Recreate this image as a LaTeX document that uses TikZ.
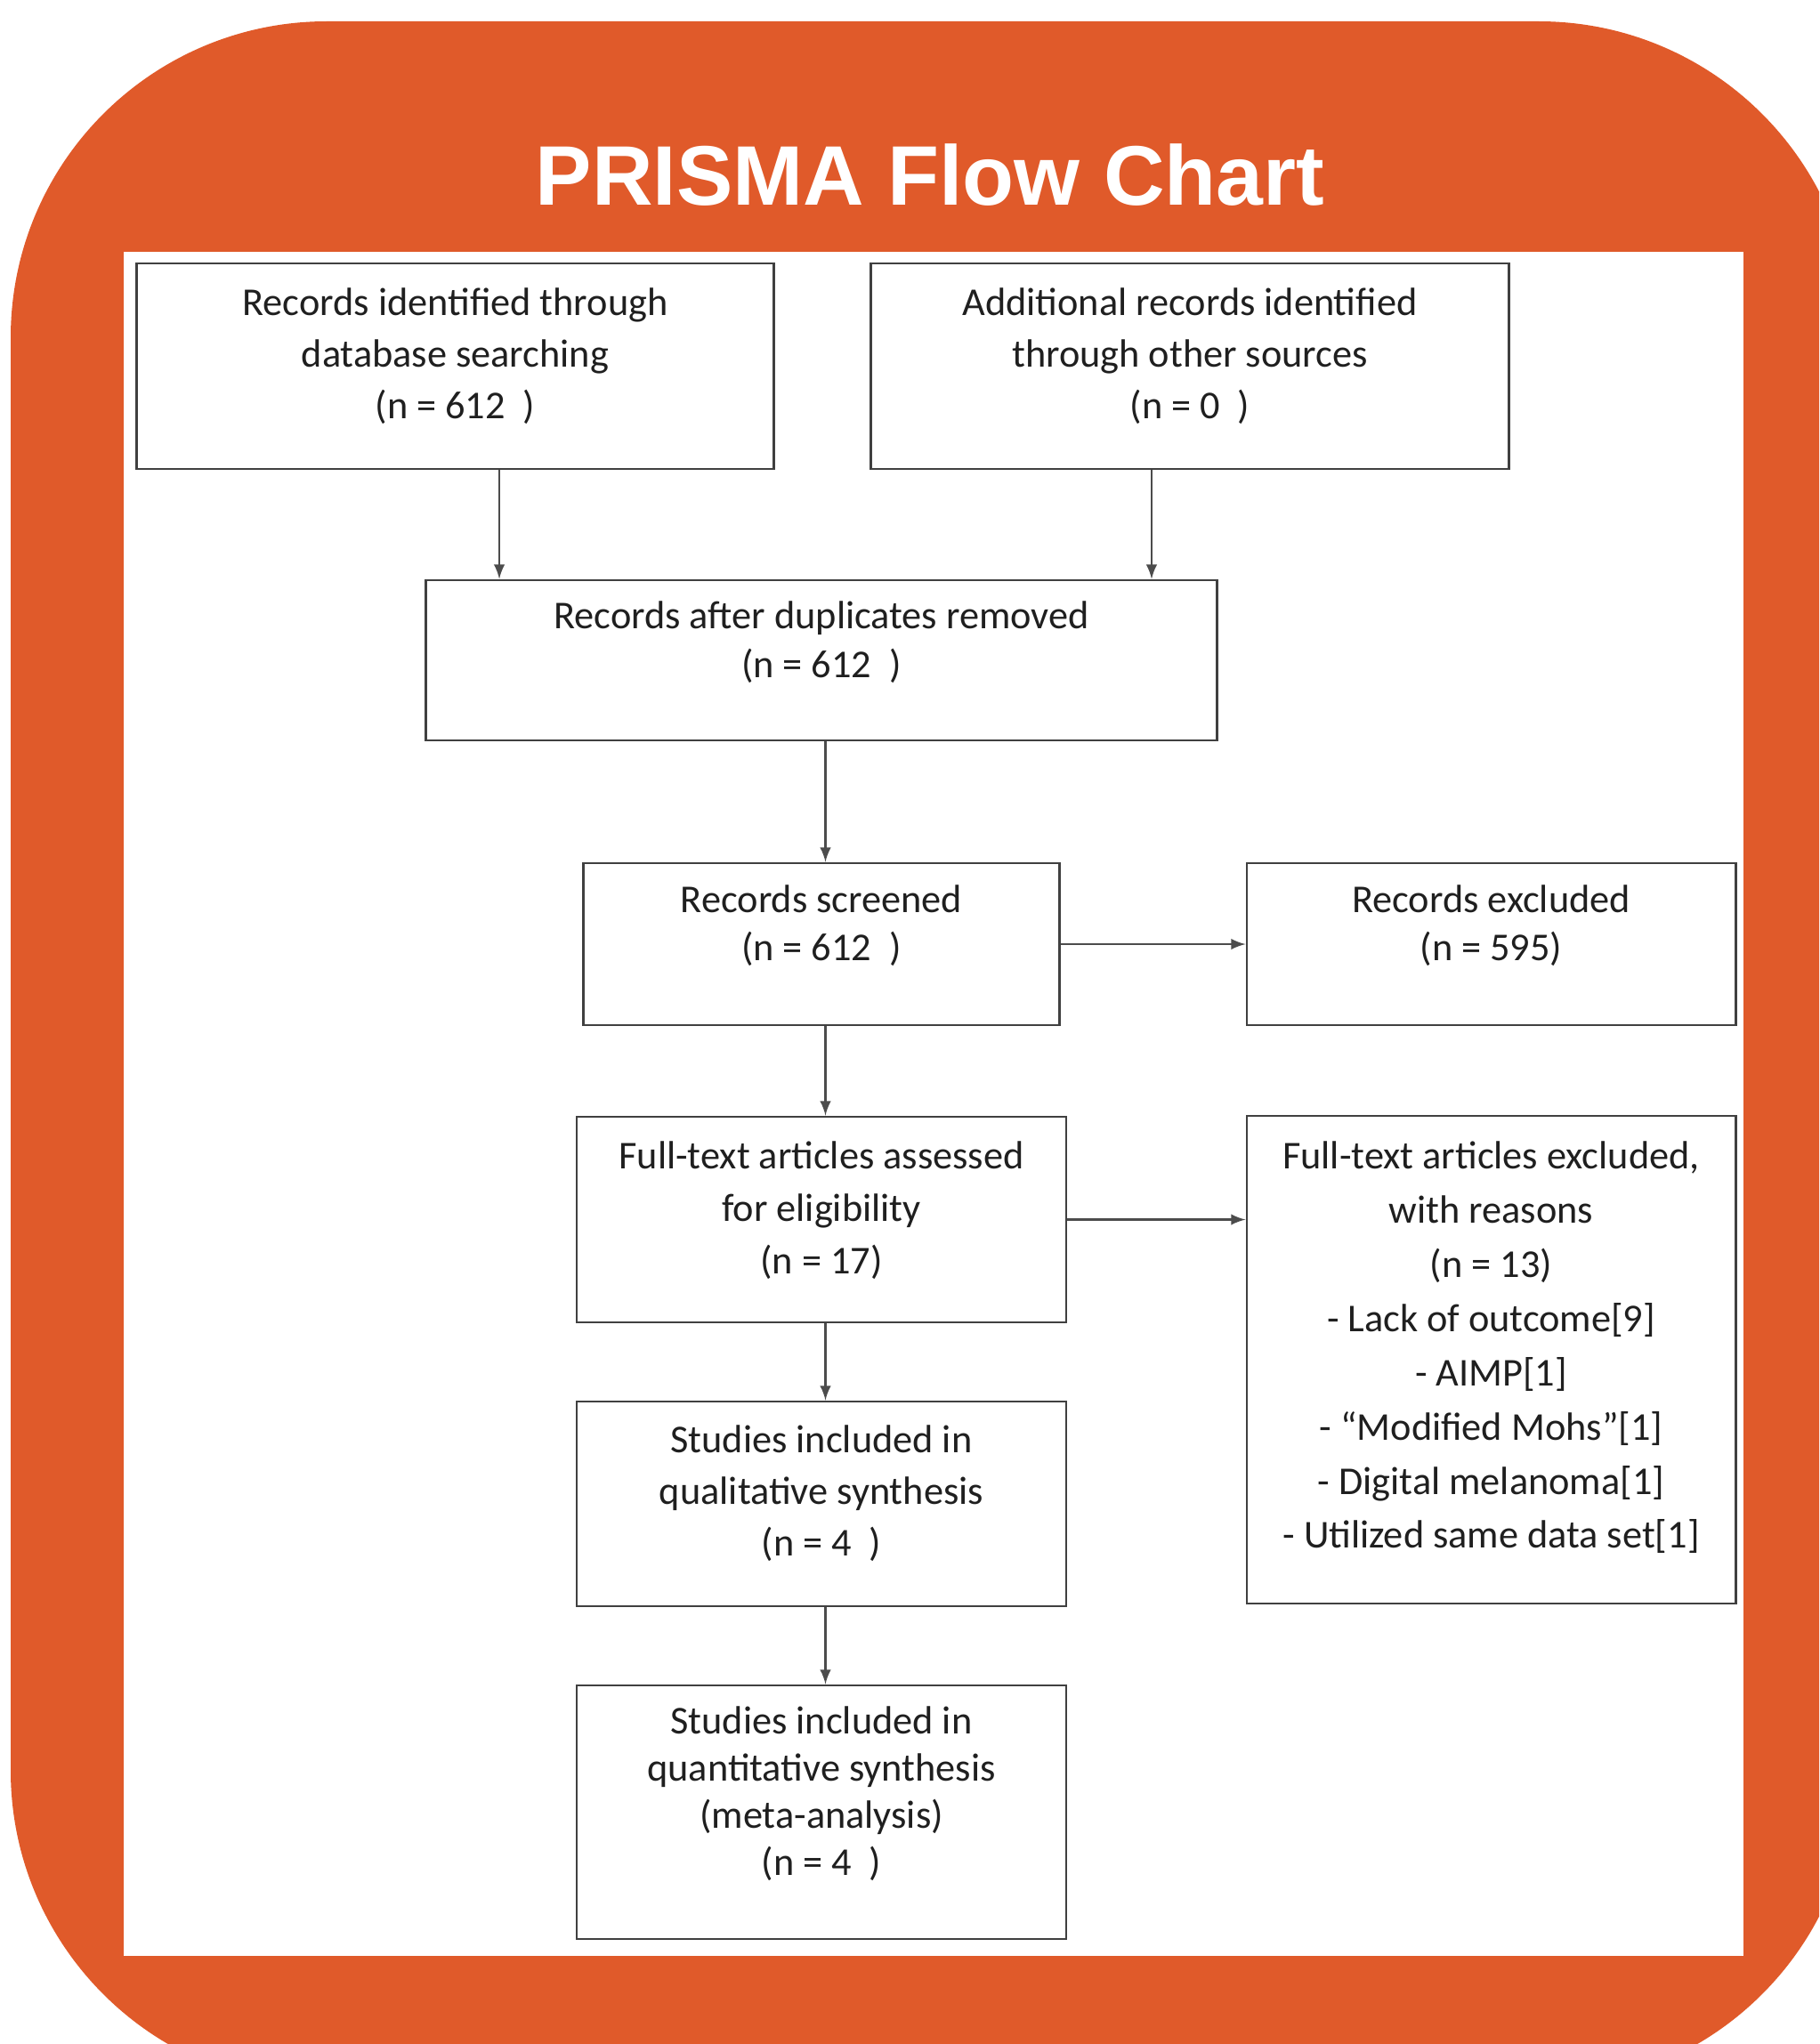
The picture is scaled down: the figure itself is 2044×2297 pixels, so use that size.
\documentclass[tikz,border=0pt]{standalone}
\usepackage{fontspec}
\setmainfont{Carlito}
\newfontfamily\titlefont{Liberation Sans}
\definecolor{slideorange}{HTML}{E05A2A}
\newcommand{\boxtxt}[5]{\parbox[c][#1][t]{#2}{\centering\fontsize{12.6}{#3}\selectfont\rule{0pt}{#4}#5}}
\begin{document}
\begin{tikzpicture}[x=0.01cm, y=-0.01cm,
    box/.style={draw=black!75, line width=0.75pt, inner sep=0pt, text=black!88},
    arr/.style={draw=black!70, line width=0.6pt, -latex}]
\useasboundingbox (0,0) rectangle (2044,2297);
\begin{scope}
  \clip (0,0) rectangle (2044,2297);
  \fill[slideorange, rounded corners=3.55cm] (12,24) rectangle (2084,2345);
\end{scope}
\fill[white] (139,283) rectangle (1959,2198);
\node[font=\titlefont\bfseries\fontsize{27}{32}\selectfont, text=white, anchor=base] (title) at (1045,230) {PRISMA Flow Chart};

\node[box] (ident) at (511.5,411.5) {\boxtxt{2.31cm}{7.15cm}{16.5pt}{16.7pt}{Records identified through\\database searching\\(n = 612~~)}};
\node[box] (other) at (1337,411.5) {\boxtxt{2.31cm}{7.16cm}{16.5pt}{16.7pt}{Additional records identified\\through other sources\\(n = 0~~)}};
\node[box] (dedup) at (923,742) {\boxtxt{1.80cm}{8.89cm}{15.8pt}{15.4pt}{Records after duplicates removed\\(n = 612~~)}};
\node[box] (screen) at (923,1061) {\boxtxt{1.82cm}{5.35cm}{15.4pt}{15.8pt}{Records screened\\(n = 612~~)}};
\node[box] (rexcl) at (1675.5,1061) {\boxtxt{1.82cm}{5.49cm}{15.4pt}{15.8pt}{Records excluded\\(n = 595)}};
\node[box] (fulltext) at (923,1370.5) {\boxtxt{2.31cm}{5.50cm}{16.7pt}{16.7pt}{Full-text articles assessed\\for eligibility\\(n = 17)}};
\node[box] (ftexcl) at (1675.5,1528) {\boxtxt{5.48cm}{5.49cm}{17.3pt}{17.1pt}{Full-text articles excluded,\\with reasons\\(n = 13)\\- Lack of outcome[9]\\- AIMP[1]\\- “Modified Mohs”[1]\\- Digital melanoma[1]\\- Utilized same data set[1]}};
\node[box] (qual) at (923,1690) {\boxtxt{2.30cm}{5.50cm}{16.5pt}{16.3pt}{Studies included in\\qualitative synthesis\\(n = 4~~)}};
\node[box] (quant) at (923,2036.5) {\boxtxt{2.85cm}{5.50cm}{15.1pt}{15.4pt}{Studies included in\\quantitative synthesis\\(meta-analysis)\\(n = 4~~)}};

\coordinate (identout) at ([xshift=0.495cm]ident.south);
\coordinate (otherout) at ([xshift=-0.43cm]other.south);
\coordinate (col) at ([xshift=0.045cm]dedup.south);
\draw[arr] (identout) -- (identout |- dedup.north);
\draw[arr] (otherout) -- (otherout |- dedup.north);
\draw[arr] (col) -- (col |- screen.north);
\draw[arr] (col |- screen.south) -- (col |- fulltext.north);
\draw[arr] (col |- fulltext.south) -- (col |- qual.north);
\draw[arr] (col |- qual.south) -- (col |- quant.north);
\draw[arr] (screen.east) -- (screen.east -| rexcl.west);
\draw[arr] (fulltext.east) -- (fulltext.east -| ftexcl.west);
\end{tikzpicture}
\end{document}
